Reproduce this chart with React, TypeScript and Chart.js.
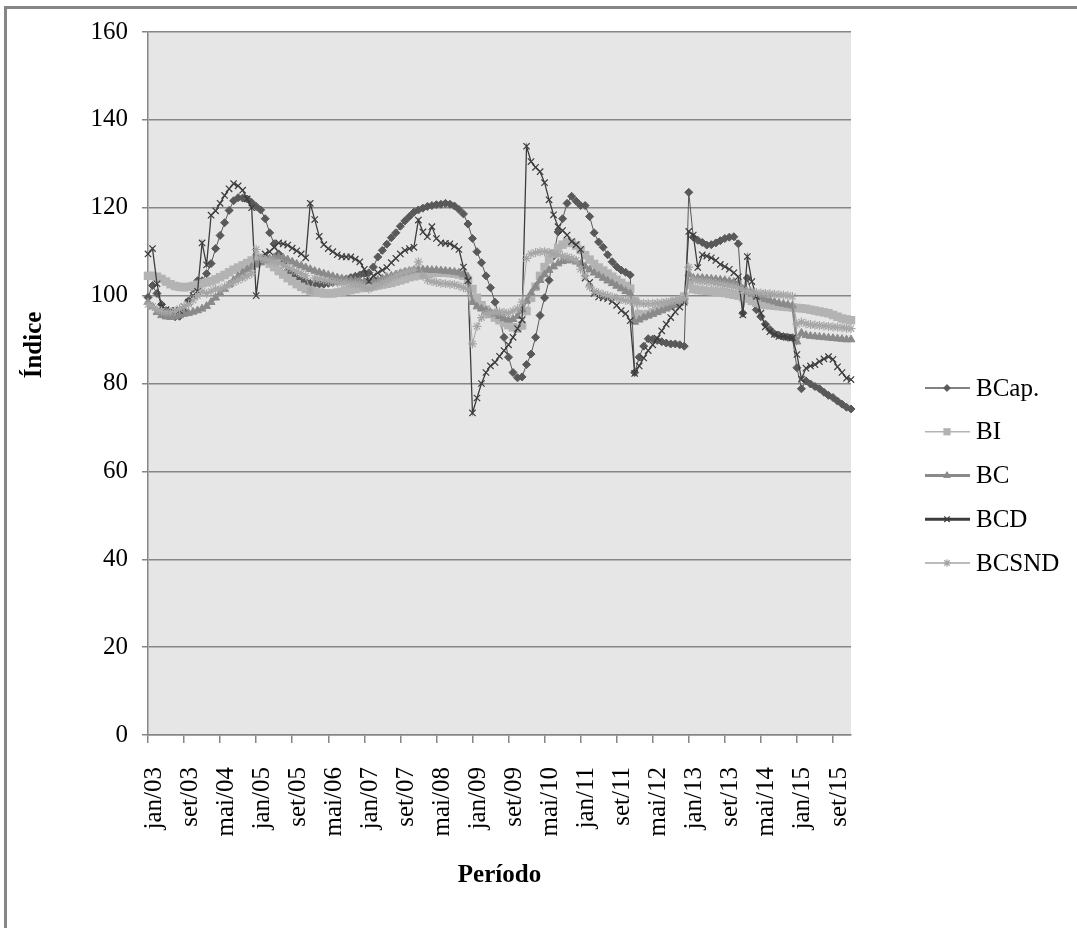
import React, { useEffect, useRef } from 'react';
import { Chart, registerables } from 'chart.js';
import { drawPoint } from 'chart.js/helpers';

Chart.register(...registerables);

// Monthly periods, jan/2003 to jan/2016
const MONTHS = ['jan', 'fev', 'mar', 'abr', 'mai', 'jun', 'jul', 'ago', 'set', 'out', 'nov', 'dez'];
const FIRST_YEAR = 2003;
const MONTH_COUNT = 157;
const LABEL_STEP = 8;
const periodLabels: string[] = Array.from({ length: MONTH_COUNT }, (_, i) =>
  `${MONTHS[i % 12]}/${String((FIRST_YEAR + Math.floor(i / 12)) % 100).padStart(2, '0')}`
);

const Y_MIN = 0;
const Y_MAX = 160;
const Y_STEP = 20;

const seriesNames = ['BCap.', 'BI', 'BC', 'BCD', 'BCSND'];

// Índice values, one row per year (2003 ... 2015, then jan/16)
const bcap = [
  99.6, 102.3, 100.5, 98, 96.6, 95.5, 95.2, 95.3, 96.5, 98.8, 101.6, 103.4,
  103.4, 105, 107.3, 110.7, 113.7, 116.6, 119.4, 121.6, 122.3, 122.2, 122, 121.2,
  120.3, 119.5, 117.5, 114.3, 111.8, 109.5, 107.5, 105.7, 104.8, 104, 103.5, 103.2,
  102.8, 102.7, 102.6, 102.6, 102.8, 103, 103.3, 103.5, 103.8, 104.1, 104.4, 104.7,
  105, 105.2, 106.5, 108.8, 110.3, 111.7, 113.2, 114.3, 115.8, 117, 118, 119,
  119.5, 119.9, 120.3, 120.5, 120.7, 120.8, 121, 120.8, 120.4, 119.6, 118.6, 116.3,
  113, 110, 107.5, 104.5, 101.8, 98.5, 95, 90.5, 86, 82.5, 81.3, 81.5,
  84.3, 86.7, 90.5, 95.5, 99.5, 103.5, 109, 114.5, 117.5, 121, 122.6, 121.5,
  120.5, 120.5, 118, 114.3, 112.2, 111, 109.3, 107.7, 106.6, 105.8, 105.3, 104.7,
  82.5, 86, 88.5, 90.2, 90.1, 89.8, 89.5, 89.2, 89, 89, 88.8, 88.5,
  123.5, 113.3, 112.6, 112.1, 111.5, 111.6, 112, 112.5, 113, 113.3, 113.4, 111.8,
  96, 104, 100.5, 96.8, 95.2, 93.5, 92.3, 91.3, 91, 90.7, 90.5, 90.4,
  83.6, 78.8, 80.6, 79.9, 79.3, 78.8, 78, 77.3, 76.8, 76, 75.3, 74.6,
  74.2,
];

const bi = [
  104.5, 104.5, 104.3, 103.8, 103.2, 102.6, 102.2, 102, 101.9, 102, 102.2, 102.5,
  102.8, 103, 103.3, 103.7, 104.2, 104.7, 105.3, 105.9, 106.4, 106.9, 107.4, 108,
  108.5, 108.6, 108.2, 107.3, 106.5, 105.6, 104.8, 104, 103.3, 102.6, 102, 101.5,
  101.2, 100.9, 100.7, 100.5, 100.5, 100.5, 100.7, 100.9, 101.1, 101.3, 101.5, 101.7,
  101.8, 102, 102.1, 102.3, 102.5, 102.7, 102.9, 103.2, 103.5, 103.8, 104.2, 104.4,
  104.6, 104.8, 105, 105.1, 105.2, 105.2, 105.2, 105.1, 105, 104.8, 104.5, 103.5,
  101.5, 99.5, 97.8, 96.8, 95.8, 95, 94.4, 93.8, 93.3, 92.8, 92.5, 93.2,
  96.5, 99.5, 102, 104.5, 106.5, 108.2, 109.6, 110.8, 111.6, 112.2, 112, 111.4,
  110.4, 109.2, 108.2, 107.2, 106.4, 105.7, 105, 104.3, 103.6, 102.9, 102.2, 101.6,
  99, 95.8, 95.5, 95.8, 96.2, 96.6, 97, 97.5, 98, 98.5, 99, 99.8,
  102.5, 101.5, 101.3, 101.2, 101.1, 101, 100.9, 100.8, 100.6, 100.4, 100.2, 100,
  99.7, 99.3, 98.8, 98.4, 98.1, 97.9, 97.8, 97.7, 97.6, 97.5, 97.4, 97.3,
  97.2, 97.1, 97, 96.8, 96.6, 96.4, 96.2, 96, 95.6, 95.2, 94.8, 94.6,
  94.4,
];

const bc = [
  98.5, 97.5, 96.2, 95.5, 95.2, 95.1, 95.2, 95.5, 95.8, 96, 96.3, 96.6,
  97, 97.6, 98.5, 99.5, 100.5, 101.5, 102.5, 103.5, 104.4, 105.2, 105.9, 106.5,
  107, 107.5, 108, 108.4, 108.7, 108.8, 108.6, 108.2, 107.7, 107.2, 106.8, 106.4,
  106, 105.6, 105.3, 105, 104.7, 104.4, 104.1, 103.9, 103.7, 103.5, 103.4, 103.3,
  103.2, 103.3, 103.4, 103.6, 103.9, 104.2, 104.5, 104.8, 105.1, 105.4, 105.6, 105.8,
  105.9, 105.9, 105.9, 105.8, 105.8, 105.7, 105.6, 105.5, 105.4, 105.2, 104.8, 104.3,
  98.5, 97.5, 97, 96.6, 96.2, 95.8, 95.3, 94.8, 94.5, 94.6, 95.3, 96.8,
  98.8, 100.5, 102, 103.5, 104.8, 105.8, 106.6, 107.3, 107.8, 108, 108, 107.7,
  107.2, 106.6, 105.9, 105.2, 104.6, 104, 103.4, 102.8, 102.2, 101.6, 101, 100.5,
  94, 94.5, 95, 95.4, 95.8, 96.2, 96.6, 97, 97.4, 97.8, 98.3, 98.8,
  105, 104, 104, 104, 103.9, 103.8, 103.7, 103.6, 103.5, 103.3, 103.1, 102.8,
  101.5, 100.8, 100.4, 100, 99.6, 99.2, 98.9, 98.6, 98.3, 98.1, 97.9, 97.7,
  89.5, 91.5, 91, 90.8, 90.7, 90.6, 90.5, 90.4, 90.3, 90.2, 90.1, 90,
  90,
];

const bcd = [
  109.5, 110.7, 102.7, 97.5, 96.8, 96.6, 96.6, 96.6, 97.5, 98.5, 100, 101,
  112, 107, 118.3, 119.3, 121, 122.8, 124.3, 125.5, 125, 124, 122, 120,
  100, 108.5, 109.5, 110, 111, 112, 111.8, 111.5, 110.8, 110.2, 109.5, 108.6,
  121, 117.3, 113.5, 111.6, 110.7, 110, 109.3, 108.9, 108.8, 108.8, 108.3, 107.7,
  106, 103.2, 104.5, 105.2, 105.8, 106.4, 107.5, 108.5, 109.5, 110.3, 110.7, 111,
  117.2, 114.5, 113.4, 115.7, 113, 112, 111.9, 111.8, 111.2, 110.5, 106.5, 103.4,
  73.3, 76.7, 80, 82.5, 84, 84.8, 86.2, 87.5, 88.8, 90.5, 92.5, 94.5,
  134, 130.5, 129.2, 128.2, 125.7, 121.8, 118.4, 115.7, 114.8, 113.8, 112.3, 111.6,
  110.5, 104, 103, 100.5, 99.7, 99.5, 99.3, 98.7, 97.8, 96.6, 95.9, 94.3,
  82.3, 84, 85.8, 87.5, 88.8, 90.3, 92, 93.5, 95, 96.3, 97.4, 98.5,
  114.6, 113.8, 106.4, 109.3, 109, 108.6, 108, 107.1, 106.6, 106, 105.2, 104.3,
  95.6, 108.9, 103.2, 99.8, 96, 92.9, 91.8, 91.2, 90.7, 90.7, 90.5, 90.4,
  86.6, 81, 83.5, 84, 84.3, 85, 85.6, 86.1, 85.5, 83.8, 82.5, 81.2,
  80.9,
];

const bcsnd = [
  98, 97.5, 96.8, 96.5, 96.3, 96.3, 96.5, 97, 97.5, 98, 99, 100,
  101, 100.5, 101, 101.5, 101.5, 102, 102.5, 103, 103.5, 104, 104.5, 105,
  110.5, 108.5, 108.2, 108, 107.8, 107.5, 107, 106.5, 106, 105.5, 105, 104.5,
  101, 104, 103.8, 103.6, 103.4, 103.2, 103, 102.9, 102.8, 102.7, 102.6, 102.5,
  102, 101.5, 102, 102.5, 103, 103.5, 104, 104.5, 105, 105.3, 105.6, 105.8,
  107.7, 104.5, 103.5, 103.2, 103, 102.8, 102.7, 102.6, 102.5, 102.2, 101.8, 101.5,
  89, 93, 95, 95.8, 96, 96.2, 96.3, 96.2, 96, 96.5, 97, 98.5,
  108.5, 109.5, 109.8, 110, 110, 109.8, 109.5, 109.3, 109, 108.8, 108.5, 108,
  106, 104.5, 102, 101, 100.6, 100.3, 100, 99.7, 99.4, 99.1, 98.9, 98.8,
  98.5, 98.3, 98.2, 98.2, 98.2, 98.3, 98.4, 98.5, 98.7, 98.9, 99, 99.2,
  106.5, 103.5, 103.3, 103.2, 103.1, 103, 102.8, 102.6, 102.4, 102.2, 102, 101.8,
  101.2, 101, 100.8, 100.7, 100.6, 100.5, 100.4, 100.3, 100.2, 100.1, 100, 99.8,
  93.5, 94, 93.6, 93.4, 93.3, 93.2, 93.1, 93, 92.9, 92.8, 92.7, 92.6,
  92.5,
];

const seriesValues = [bcap, bi, bc, bcd, bcsnd];

// Grayscale styling per series
const seriesStyle = [
  { color: '#595959', point: 'rectRot', radius: 4, line: 1, legendLine: 1.5, pointBorder: 1, drawOrder: 5 },
  { color: '#b3b3b3', point: 'rect', radius: 6, line: 1.5, legendLine: 1.5, pointBorder: 0, drawOrder: 4 },
  { color: '#8a8a8a', point: 'triangle', radius: 4.5, line: 2.5, legendLine: 3, pointBorder: 1, drawOrder: 3 },
  { color: '#3d3d3d', point: 'crossRot', radius: 4.5, line: 1.3, legendLine: 3, pointBorder: 1.2, drawOrder: 2 },
  { color: '#a6a6a6', point: 'star', radius: 4.5, line: 1, legendLine: 1.5, pointBorder: 1.2, drawOrder: 1 },
];

const AXIS_GRAY = '#868686';
const PLOT_FILL = '#e6e6e6';
const FONT = '"Liberation Serif", "Times New Roman", serif';

const backdropPlugin = {
  id: 'backdrop',
  beforeDraw(chart: any) {
    const { ctx, chartArea: a, width, height } = chart;
    ctx.save();
    ctx.fillStyle = '#ffffff';
    ctx.fillRect(0, 0, width, height);
    ctx.strokeStyle = AXIS_GRAY;
    ctx.lineWidth = 3;
    ctx.strokeRect(5.5, 7.5, width + 40, height + 40);
    ctx.fillStyle = PLOT_FILL;
    ctx.fillRect(a.left, a.top, a.right - a.left, a.bottom - a.top);
    ctx.restore();
  },
};

const annotationsPlugin = {
  id: 'annotations',
  afterDraw(chart: any) {
    const { ctx, chartArea: a } = chart;
    ctx.save();
    ctx.fillStyle = '#000';
    ctx.font = `bold 25px ${FONT}`;
    ctx.textAlign = 'center';
    ctx.textBaseline = 'middle';
    ctx.fillText('Período', (a.left + a.right) / 2, 876);
    ctx.translate(35, 345);
    ctx.rotate(-Math.PI / 2);
    ctx.fillText('Índice', 0, 0);
    ctx.restore();

    // Legend: line sample with marker, then the series name
    ctx.save();
    chart.data.datasets.forEach((ds: any, k: number) => {
      const st = seriesStyle[k];
      const y = 388 + k * 43.75;
      ctx.strokeStyle = st.color;
      ctx.fillStyle = st.color;
      ctx.lineWidth = st.legendLine;
      ctx.beginPath();
      ctx.moveTo(925, y);
      ctx.lineTo(970, y);
      ctx.stroke();
      ctx.lineWidth = st.pointBorder || 1;
      drawPoint(ctx, { pointStyle: st.point, radius: st.radius * 0.85, rotation: 0, borderWidth: st.pointBorder }, 947, y);
      ctx.fillStyle = '#000';
      ctx.font = `25px ${FONT}`;
      ctx.textAlign = 'left';
      ctx.textBaseline = 'middle';
      ctx.fillText(ds.label, 976, y + 1);
    });
    ctx.restore();
  },
};

export default function App() {
  const canvasRef = useRef<HTMLCanvasElement | null>(null);

  useEffect(() => {
    const canvas = canvasRef.current;
    if (!canvas) return;

    const datasets = seriesNames.map((name, k) => {
      const st = seriesStyle[k];
      return {
        label: name,
        data: seriesValues[k],
        borderColor: st.color,
        backgroundColor: st.color,
        borderWidth: st.line,
        pointStyle: st.point,
        pointRadius: st.radius,
        pointBorderWidth: st.pointBorder,
        pointBorderColor: st.color,
        pointBackgroundColor: st.color,
        tension: 0,
        fill: false,
        order: st.drawOrder,
      };
    });

    const chart = new Chart(canvas, {
      type: 'line',
      data: { labels: periodLabels, datasets },
      options: {
        responsive: false,
        animation: false,
        events: [],
        layout: { padding: { left: 0, right: 226, top: 32, bottom: 0 } },
        plugins: { legend: { display: false }, tooltip: { enabled: false } },
        scales: {
          x: {
            type: 'category',
            offset: false,
            grid: {
              drawOnChartArea: false,
              drawTicks: true,
              tickLength: 8,
              lineWidth: 1.5,
              color: (c: any) => (c.index % LABEL_STEP === 0 ? AXIS_GRAY : 'rgba(0,0,0,0)'),
            },
            border: { display: true, color: AXIS_GRAY, width: 1.5 },
            ticks: {
              autoSkip: false,
              minRotation: 90,
              maxRotation: 90,
              padding: 24,
              labelOffset: 6,
              color: '#000',
              font: { family: FONT, size: 25 },
              callback: (_v: any, i: number) => (i % LABEL_STEP === 0 ? periodLabels[i] : ''),
            },
            afterFit: (s: any) => {
              s.height = 193;
            },
          },
          y: {
            min: Y_MIN,
            max: Y_MAX,
            grid: { color: AXIS_GRAY, lineWidth: 1.5, tickLength: 6 },
            border: { display: true, color: AXIS_GRAY, width: 1.5 },
            ticks: {
              stepSize: Y_STEP,
              padding: 14,
              color: '#000',
              font: { family: FONT, size: 25 },
            },
            afterFit: (s: any) => {
              s.width = 148;
            },
          },
        },
      },
      plugins: [backdropPlugin, annotationsPlugin],
    });

    return () => chart.destroy();
  }, []);

  return (
    <div style={{ position: 'absolute', left: 0, top: 0, width: 1077, height: 928, background: '#fff' }}>
      <canvas ref={canvasRef} width={1077} height={928} style={{ display: 'block' }} />
    </div>
  );
}
